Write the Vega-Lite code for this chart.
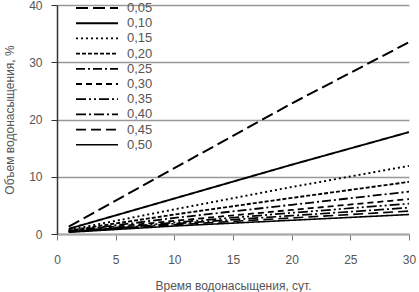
{
  "$schema": "https://vega.github.io/schema/vega-lite/v6.json",
  "width": 352,
  "height": 229,
  "autosize": {"type": "none"},
  "padding": {"left": 57, "top": 5, "right": 10, "bottom": 58},
  "background": "white",
  "config": {
    "view": {"stroke": null},
    "font": "Liberation Sans",
    "axis": {"labelFont": "Liberation Sans", "titleFont": "Liberation Sans", "labelColor": "#555", "titleColor": "#555", "labelFontSize": 12, "titleFontSize": 12, "titleFontWeight": "normal"}
  },
  "data": {
    "values": [
      {"k": "0,05", "t": 1, "v": 1.3}, {"k": "0,05", "t": 10, "v": 11.5}, {"k": "0,05", "t": 20, "v": 22.8}, {"k": "0,05", "t": 30, "v": 33.5},
      {"k": "0,10", "t": 1, "v": 0.9}, {"k": "0,10", "t": 10, "v": 6.2}, {"k": "0,10", "t": 20, "v": 12.1}, {"k": "0,10", "t": 30, "v": 17.8},
      {"k": "0,15", "t": 1, "v": 0.7}, {"k": "0,15", "t": 10, "v": 4.3}, {"k": "0,15", "t": 20, "v": 8.2}, {"k": "0,15", "t": 30, "v": 11.9},
      {"k": "0,20", "t": 1, "v": 0.6}, {"k": "0,20", "t": 10, "v": 3.4}, {"k": "0,20", "t": 20, "v": 6.3}, {"k": "0,20", "t": 30, "v": 9.1},
      {"k": "0,25", "t": 1, "v": 0.5}, {"k": "0,25", "t": 10, "v": 2.8}, {"k": "0,25", "t": 20, "v": 5.1}, {"k": "0,25", "t": 30, "v": 7.4},
      {"k": "0,30", "t": 1, "v": 0.5}, {"k": "0,30", "t": 10, "v": 2.3}, {"k": "0,30", "t": 20, "v": 4.2}, {"k": "0,30", "t": 30, "v": 6.1},
      {"k": "0,35", "t": 1, "v": 0.4}, {"k": "0,35", "t": 10, "v": 2.0}, {"k": "0,35", "t": 20, "v": 3.7}, {"k": "0,35", "t": 30, "v": 5.3},
      {"k": "0,40", "t": 1, "v": 0.4}, {"k": "0,40", "t": 10, "v": 1.8}, {"k": "0,40", "t": 20, "v": 3.2}, {"k": "0,40", "t": 30, "v": 4.6},
      {"k": "0,45", "t": 1, "v": 0.4}, {"k": "0,45", "t": 10, "v": 1.6}, {"k": "0,45", "t": 20, "v": 2.8}, {"k": "0,45", "t": 30, "v": 4.0},
      {"k": "0,50", "t": 1, "v": 0.3}, {"k": "0,50", "t": 10, "v": 1.4}, {"k": "0,50", "t": 20, "v": 2.4}, {"k": "0,50", "t": 30, "v": 3.4}
    ]
  },
  "mark": {"type": "line", "color": "black", "clip": true},
  "encoding": {
    "x": {
      "field": "t", "type": "quantitative",
      "scale": {"domain": [0, 30], "nice": false},
      "axis": {"values": [0, 5, 10, 15, 20, 25, 30], "grid": false, "domainColor": "#aaa", "domainWidth": 2, "tickColor": "#777", "tickSize": 6, "labelPadding": 14, "title": "Время водонасыщения, сут.", "titlePadding": 15, "labelFlush": false}
    },
    "y": {
      "field": "v", "type": "quantitative",
      "scale": {"domain": [0, 40], "nice": false},
      "axis": {"values": [0, 10, 20, 30, 40], "grid": true, "gridColor": "#999", "gridWidth": 1.5, "domainColor": "#333", "domainWidth": 1.5, "tickColor": "#333", "tickSize": 6, "labelPadding": 9, "title": "Объем водонасыщения, %", "titlePadding": 12}
    },
    "strokeDash": {
      "field": "k", "type": "ordinal",
      "scale": {
        "domain": ["0,05", "0,10", "0,15", "0,20", "0,25", "0,30", "0,35", "0,40", "0,45", "0,50"],
        "range": [[12, 5], [1, 0], [2, 3], [4, 2], [9, 3, 2, 3], [6, 4], [10, 3, 2, 3, 2, 3], [10, 3, 2, 3], [10, 5], [1, 0]]
      },
      "legend": {
        "title": null, "orient": "none", "legendX": 18, "legendY": -5,
        "symbolType": "M-3,0H3", "symbolSize": 196, "symbolStrokeColor": "black",
        "labelFontSize": 13, "labelColor": "#555", "labelFont": "Liberation Sans",
        "rowPadding": 0.2, "labelOffset": 22, "symbolOffset": 14
      }
    },
    "strokeWidth": {
      "field": "k", "type": "ordinal",
      "scale": {
        "domain": ["0,05", "0,10", "0,15", "0,20", "0,25", "0,30", "0,35", "0,40", "0,45", "0,50"],
        "range": [2, 1.6, 2.5, 2.5, 2, 2.5, 3, 3, 3, 2.5]
      },
      "legend": null
    }
  }
}
